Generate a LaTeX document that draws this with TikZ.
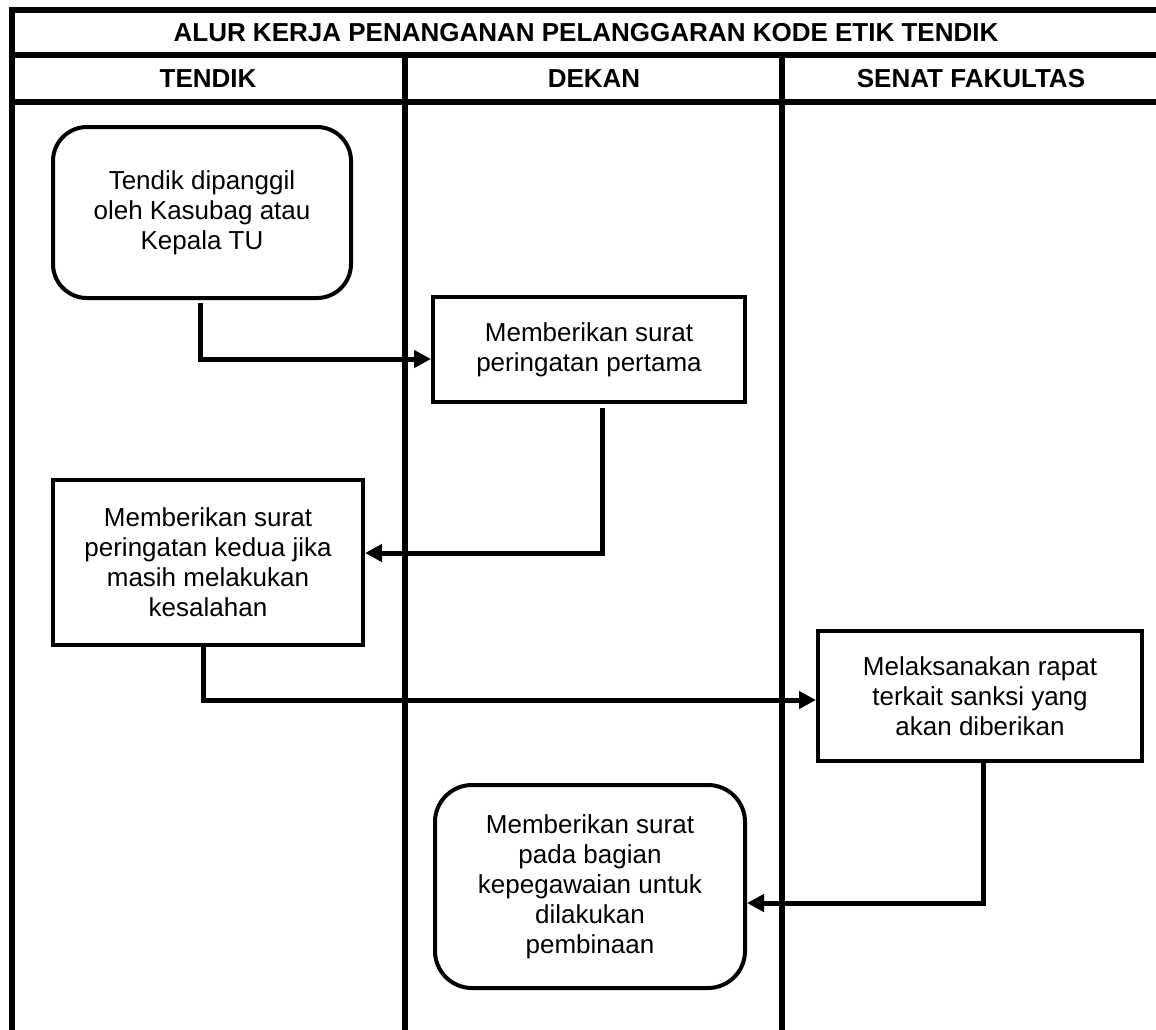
\documentclass[tikz,border=0pt]{standalone}
\usepackage{fontspec}
\setmainfont{Liberation Sans}
\usetikzlibrary{arrows.meta}
\begin{document}
\begin{tikzpicture}[x=1pt,y=-1pt,
  lane/.style={line width=5.5pt},
  box/.style={draw, line width=4pt, fill=white, align=center, inner sep=0pt, font=\fontsize{26}{30}\selectfont},
  rbox/.style={box, rounded corners=34pt},
  hdr/.style={font=\fontsize{26}{30}\selectfont\bfseries, inner sep=0pt, anchor=base},
  arr/.style={line width=5pt, -{Triangle[length=17pt,width=17pt]}}
]
\useasboundingbox (0,0) rectangle (1156,1029);
\clip (0,0) rectangle (1156,1029);
% frame and lanes
\draw[lane] (12,1040) -- (12,10) -- (1170,10);
\draw[lane] (12,55) -- (1170,55);
\draw[lane] (12,102) -- (1170,102);
\draw[lane] (405,55) -- (405,1040);
\draw[lane] (782,55) -- (782,1040);
% headers
\node[hdr] (title) at (586,41) {ALUR KERJA PENANGANAN PELANGGARAN KODE ETIK TENDIK};
\node[hdr] (h1) at (208,87) {TENDIK};
\node[hdr] (h2) at (594,87) {DEKAN};
\node[hdr] (h3) at (971,87) {SENAT FAKULTAS};
% nodes
\node[rbox, minimum width=298pt, minimum height=171pt] (n1) at (202,212.5)
  {Tendik dipanggil\\oleh Kasubag atau\\Kepala TU};
\node[box, minimum width=312pt, minimum height=105pt] (n2) at (589,349.5)
  {Memberikan surat\\peringatan pertama};
\node[box, minimum width=310pt, minimum height=165pt] (n3) at (208,562.5)
  {Memberikan surat\\peringatan kedua jika\\masih melakukan\\kesalahan};
\node[box, minimum width=324pt, minimum height=130pt] (n4) at (980,696)
  {Melaksanakan rapat\\terkait sanksi yang\\akan diberikan};
\node[rbox, rounded corners=37pt, minimum width=310pt, minimum height=203pt] (n5) at (590,886.5)
  {Memberikan surat\\pada bagian\\kepegawaian untuk\\dilakukan\\pembinaan};
% connectors
\draw[arr] ([xshift=-2pt,yshift=-3pt]n1.south) |- ([yshift=-9.5pt]n2.west);
\draw[arr] ([xshift=13pt,yshift=-4pt]n2.south) |- ([yshift=9.5pt]n3.east);
\draw[arr] ([xshift=-5pt]n3.south) |- ([yshift=-4pt]n4.west);
\draw[arr] ([xshift=3pt]n4.south) |- ([yshift=-16.5pt]n5.east);
\end{tikzpicture}
\end{document}
